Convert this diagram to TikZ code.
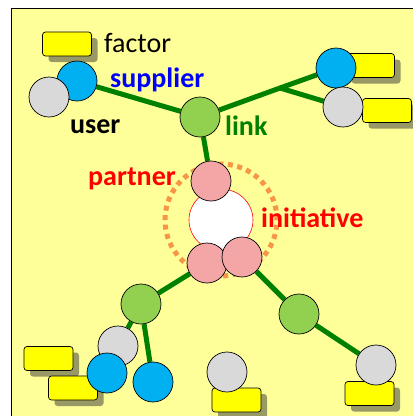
\documentclass[tikz,border=0pt]{standalone}
\usepackage{fontspec}
\setmainfont{Carlito}
\usetikzlibrary{shadows,backgrounds,shapes.geometric}
\definecolor{paper}{RGB}{255,255,153}
\definecolor{note}{RGB}{255,255,0}
\definecolor{noteshade}{RGB}{153,153,102}
\definecolor{sky}{RGB}{0,176,240}
\definecolor{ash}{RGB}{217,217,217}
\definecolor{leaf}{RGB}{146,208,80}
\definecolor{rose}{RGB}{244,166,166}
\definecolor{stem}{RGB}{0,128,0}
\definecolor{halo}{RGB}{247,150,70}

\begin{document}
\begin{tikzpicture}[x=1pt,y=-1pt,font=\fontsize{28}{30}\selectfont]
\tikzset{ball/.style={circle,draw=black,line width=.7pt,minimum size=40pt,inner sep=0pt},
tag/.style={rectangle,rounded corners=3pt,draw=black,line width=.7pt,fill=note,minimum width=49pt,minimum height=24pt,inner sep=0pt,
  drop shadow={shadow xshift=6pt,shadow yshift=-6pt,fill=noteshade,opacity=1}},
edge/.style={line width=5pt,draw=stem},
word/.style={anchor=base west,inner sep=0pt,font=\fontsize{28}{30}\selectfont\bfseries}}
\useasboundingbox (0,0) rectangle (413,416);
% sticky notes
\node[tag] (fbox) at (67,44) {};
\node[anchor=base west,inner sep=0pt] (factor) at (104,52) {factor};
\node[tag] (trbox1) at (370,65.5) {};
\node[tag] (trbox2) at (387,110.5) {};
\node[tag] (blbox1) at (48.5,358.5) {};
\node[tag] (blbox2) at (73,388) {};
\node[tag] (bmbox) at (236.5,400) {};
\node[tag] (brbox) at (369.5,393.5) {};
% initiative core
\node[ellipse,draw=red,line width=.6pt,fill=white,minimum width=64pt,minimum height=62pt,inner sep=0pt] (core) at (221,220) {};
\draw[halo,line width=5pt,dash pattern=on 5pt off 4.5pt] (core.center) circle[radius=56pt];
% actors
\node[ball,fill=sky] (tlb) at (77,81) {};
\node[ball,fill=ash] (tlg) at (49,97) {};
\node[ball,fill=leaf] (link) at (200,117) {};
\node[ball,fill=sky] (trb) at (336,68) {};
\node[ball,fill=ash] (trg) at (343,107) {};
\node[ball,fill=rose] (ptop) at (211,181) {};
\node[ball,fill=rose] (pleft) at (207,263) {};
\node[ball,fill=rose] (pright) at (242,257) {};
\node[ball,fill=leaf] (blk) at (141,304) {};
\node[ball,fill=ash] (blg) at (118,346) {};
\node[ball,fill=sky] (blb1) at (107,373) {};
\node[ball,fill=sky] (blb2) at (153,382) {};
\node[ball,fill=leaf] (brk) at (299,314) {};
\node[ball,fill=ash] (bmg) at (227,372) {};
\node[ball,fill=ash] (brg) at (376,365) {};
% labels
\node[word,text=blue] (supplier) at (110,87) {supplier};
\node[word] (user) at (70,133) {user};
\node[word,text=stem] (linklabel) at (225,135) {link};
\node[word,text=red] (partner) at (88,185) {partner};
\node[word,text=red] (initiative) at (261,227) {initiative};
\coordinate (fork) at (280,88);
\begin{scope}[on background layer]
\fill[paper] (11,8) rectangle (413,416);
\draw[line width=1pt] (11,416) -- (11,8) -- (413,8);
\draw[edge] (tlb) -- (link);
\draw[edge] (link) -- (fork) -- (trb);
\draw[edge] (fork) -- (trg);
\draw[edge] (link) -- (ptop);
\draw[edge] (pleft) -- (blk);
\draw[edge] (blk) -- (blg);
\draw[edge] (blk) -- (blb2);
\draw[edge] (pright) -- (brk) -- (brg);
\end{scope}
\end{tikzpicture}
\end{document}
